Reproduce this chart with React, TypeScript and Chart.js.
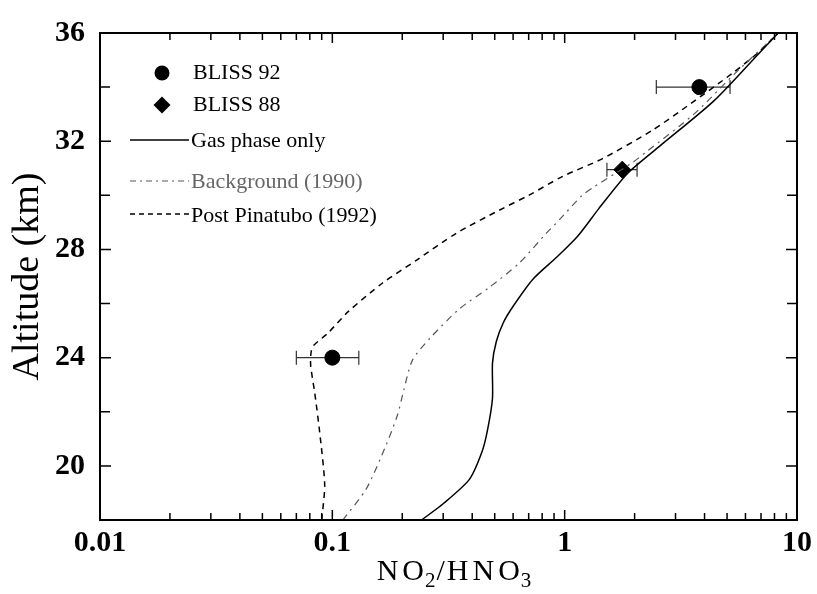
import React, { useEffect, useRef } from "react";
import { Chart, registerables } from "chart.js";

Chart.register(...registerables);

// ---- data (NO2/HNO3 ratio vs altitude in km) ----
const gasAlt = [18, 18.6, 19.5, 20.5, 21.3, 22.5, 23.8, 24.6, 25.3, 25.9, 26.9, 27.7, 28.5, 29.5, 30.8, 31.8, 33.5, 35.3, 36];
const gasRatio = [0.242, 0.3, 0.389, 0.44, 0.465, 0.489, 0.489, 0.508, 0.545, 0.6, 0.73, 0.92, 1.14, 1.4, 1.86, 2.55, 4.4, 6.95, 8.3];

const bgAlt = [18, 19.15, 20.8, 21.9, 22.8, 23.9, 24.7, 25.8, 26.6, 27.5, 28.6, 29.1, 30.0, 30.3, 31.2, 31.6, 33.0, 34.5, 36];
const bgRatio = [0.111, 0.14, 0.171, 0.191, 0.203, 0.221, 0.262, 0.352, 0.474, 0.638, 0.834, 0.95, 1.19, 1.33, 1.95, 2.24, 3.6, 5.4, 8.3];

const pinAlt = [18, 19.3, 21.25, 22.7, 23.7, 24.2, 24.45, 24.9, 25.7, 26.75, 27.6, 28.6, 29.45, 30.0, 30.7, 31.35, 32.4, 33.4, 34.5, 35.3, 36];
const pinRatio = [0.09, 0.0927, 0.0882, 0.084, 0.0807, 0.081, 0.083, 0.0955, 0.117, 0.164, 0.23, 0.342, 0.523, 0.70, 0.98, 1.45, 2.38, 3.5, 5.25, 6.86, 8.3];

const bliss92Alt = [34, 24];
const bliss92Ratio = [3.8, 0.1];
const bliss92Low = [2.48, 0.07];
const bliss92High = [5.15, 0.13];

const bliss88Alt = [30.95];
const bliss88Ratio = [1.77];
const bliss88Low = [1.52];
const bliss88High = [2.05];

const xMajorTicks = [0.01, 0.1, 1, 10];
const xMinorTicks = [
  0.02, 0.03, 0.04, 0.05, 0.06, 0.07, 0.08, 0.09,
  0.2, 0.3, 0.4, 0.5, 0.6, 0.7, 0.8, 0.9,
  2, 3, 4, 5, 6, 7, 8, 9,
];
const yMajorTicks = [20, 24, 28, 32, 36];
const yMinorTicks = [22, 26, 30, 34];

const legendLabels = ["BLISS 92", "BLISS 88", "Gas phase only", "Background (1990)", "Post Pinatubo (1992)"];
const yTitle = "Altitude (km)";
const xTitleParts = [
  { t: "NO", sub: false },
  { t: "2", sub: true },
  { t: "/HNO", sub: false },
  { t: "3", sub: true },
];

const SERIF = "'Liberation Serif', 'Times New Roman', serif";
const BG_COLOR = "#555555";

const zip = (xs: number[], ys: number[]) => xs.map((x, i) => ({ x, y: ys[i] }));

const decorPlugin = {
  id: "decor",
  beforeDatasetsDraw(chart: any) {
    const { ctx } = chart;
    const xs = chart.scales.x;
    const ys = chart.scales.y;
    const drawErr = (low: number[], high: number[], alt: number[]) => {
      for (let i = 0; i < alt.length; i++) {
        const y = ys.getPixelForValue(alt[i]);
        const x1 = xs.getPixelForValue(low[i]);
        const x2 = xs.getPixelForValue(high[i]);
        ctx.save();
        ctx.strokeStyle = "#333";
        ctx.lineWidth = 1.2;
        ctx.beginPath();
        ctx.moveTo(x1, y);
        ctx.lineTo(x2, y);
        ctx.moveTo(x1, y - 7);
        ctx.lineTo(x1, y + 7);
        ctx.moveTo(x2, y - 7);
        ctx.lineTo(x2, y + 7);
        ctx.stroke();
        ctx.restore();
      }
    };
    drawErr(bliss92Low, bliss92High, bliss92Alt);
    drawErr(bliss88Low, bliss88High, bliss88Alt);
  },
  afterDraw(chart: any) {
    const { ctx, chartArea } = chart;
    const { left, right, top, bottom } = chartArea;
    const xs = chart.scales.x;
    const ys = chart.scales.y;
    ctx.save();
    ctx.strokeStyle = "#000";
    // frame
    ctx.lineWidth = 2;
    ctx.strokeRect(left, top, right - left, bottom - top);
    // inward ticks
    ctx.lineWidth = 1.5;
    ctx.beginPath();
    const xt = (v: number, len: number) => {
      const p = xs.getPixelForValue(v);
      ctx.moveTo(p, bottom);
      ctx.lineTo(p, bottom - len);
      ctx.moveTo(p, top);
      ctx.lineTo(p, top + len);
    };
    xMajorTicks.forEach((v) => xt(v, 10));
    xMinorTicks.forEach((v) => xt(v, 7));
    const yt = (v: number, len: number) => {
      const p = ys.getPixelForValue(v);
      ctx.moveTo(left, p);
      ctx.lineTo(left + len, p);
      ctx.moveTo(right, p);
      ctx.lineTo(right - len, p);
    };
    yMajorTicks.forEach((v) => yt(v, 11));
    yMinorTicks.forEach((v) => yt(v, 10));
    ctx.stroke();

    // legend
    ctx.textAlign = "left";
    ctx.textBaseline = "middle";
    ctx.font = `22px ${SERIF}`;
    const mx = left + 62;
    const tx = left + 93;
    // BLISS 92
    ctx.fillStyle = "#000";
    ctx.beginPath();
    ctx.arc(mx, 73, 7.5, 0, Math.PI * 2);
    ctx.fill();
    ctx.fillText(legendLabels[0], tx, 73);
    // BLISS 88
    ctx.beginPath();
    ctx.moveTo(mx, 105 - 8.5);
    ctx.lineTo(mx + 8.5, 105);
    ctx.lineTo(mx, 105 + 8.5);
    ctx.lineTo(mx - 8.5, 105);
    ctx.closePath();
    ctx.fill();
    ctx.fillText(legendLabels[1], tx, 105);
    // lines
    const lx1 = left + 30;
    const lx2 = left + 89;
    const ltx = left + 91;
    const drawLegLine = (y: number, dash: number[], color: string, w: number) => {
      ctx.save();
      ctx.strokeStyle = color;
      ctx.lineWidth = w;
      ctx.setLineDash(dash);
      ctx.beginPath();
      ctx.moveTo(lx1, y);
      ctx.lineTo(lx2, y);
      ctx.stroke();
      ctx.restore();
    };
    drawLegLine(140, [], "#000", 1.5);
    ctx.fillText(legendLabels[2], ltx, 141);
    drawLegLine(181, [6, 4, 2, 4], BG_COLOR, 1.2);
    ctx.fillStyle = "#666";
    ctx.fillText(legendLabels[3], ltx, 182);
    drawLegLine(214, [5, 4], "#000", 1.5);
    ctx.fillStyle = "#000";
    ctx.fillText(legendLabels[4], ltx, 216);

    // x title with subscripts
    const big = 30;
    const small = 21;
    const glyphs: { ch: string; sub: boolean }[] = [];
    xTitleParts.forEach((p) => {
      for (const ch of p.t) glyphs.push({ ch, sub: p.sub });
    });
    const gapAfter = (i: number) => {
      if (i >= glyphs.length - 1) return 0;
      const a = glyphs[i];
      const b = glyphs[i + 1];
      if (a.sub || b.sub) return 1;
      if (a.ch === "/" || b.ch === "/") return 2;
      return 4;
    };
    const widthOf = (g: { ch: string; sub: boolean }) => {
      ctx.font = `${g.sub ? small : big}px ${SERIF}`;
      return ctx.measureText(g.ch).width;
    };
    let total = 0;
    glyphs.forEach((g, i) => (total += widthOf(g) + gapAfter(i)));
    let cx = 454 - total / 2;
    const baseY = 580;
    ctx.textBaseline = "alphabetic";
    ctx.fillStyle = "#000";
    glyphs.forEach((g, i) => {
      const w = widthOf(g);
      ctx.fillText(g.ch, cx, g.sub ? baseY + 7 : baseY);
      cx += w + gapAfter(i);
    });
    ctx.restore();
  },
};

export default function App() {
  const ref = useRef<HTMLCanvasElement | null>(null);
  useEffect(() => {
    document.body.style.margin = "0";
    const canvas = ref.current;
    if (!canvas) return;
    const lineBase = { showLine: true, pointRadius: 0, tension: 0.25, fill: false };
    const chart = new Chart(canvas, {
      type: "scatter",
      data: {
        datasets: [
          {
            label: "Gas phase only",
            data: zip(gasRatio, gasAlt),
            borderColor: "#000",
            borderWidth: 1.5,
            ...lineBase,
          },
          {
            label: "Background (1990)",
            data: zip(bgRatio, bgAlt),
            borderColor: BG_COLOR,
            borderWidth: 1.2,
            borderDash: [7, 5, 2, 5],
            ...lineBase,
          },
          {
            label: "Post Pinatubo (1992)",
            data: zip(pinRatio, pinAlt),
            borderColor: "#000",
            borderWidth: 1.5,
            borderDash: [6, 5],
            ...lineBase,
          },
          {
            label: "BLISS 92",
            data: zip(bliss92Ratio, bliss92Alt),
            pointStyle: "circle",
            pointRadius: 7.5,
            backgroundColor: "#000",
            borderColor: "#000",
            showLine: false,
          },
          {
            label: "BLISS 88",
            data: zip(bliss88Ratio, bliss88Alt),
            pointStyle: "rectRot",
            pointRadius: 8.5,
            backgroundColor: "#000",
            borderColor: "#000",
            showLine: false,
          },
        ],
      } as any,
      options: {
        animation: false,
        responsive: false,
        layout: { padding: { top: 28, right: 19, left: 0, bottom: 0 } },
        plugins: {
          legend: { display: false },
          tooltip: { enabled: false },
        },
        scales: {
          x: {
            type: "logarithmic",
            min: 0.01,
            max: 10,
            afterBuildTicks: (scale: any) => {
              scale.ticks = xMajorTicks.map((v) => ({ value: v }));
            },
            afterFit: (scale: any) => {
              scale.height = 74;
            },
            ticks: {
              color: "#000",
              font: { family: SERIF, size: 30, weight: "bold" },
              padding: 5,
              maxRotation: 0,
              autoSkip: false,
              callback: (v: any) => String(v),
            },
            grid: { display: false, drawTicks: false },
            border: { display: false },
          },
          y: {
            type: "linear",
            min: 18,
            max: 36,
            afterBuildTicks: (scale: any) => {
              scale.ticks = yMajorTicks.map((v) => ({ value: v }));
            },
            afterFit: (scale: any) => {
              scale.width = 100;
            },
            ticks: {
              color: "#000",
              font: { family: SERIF, size: 30, weight: "bold" },
              padding: 15,
              autoSkip: false,
              callback: (v: any) => String(v),
            },
            grid: { display: false, drawTicks: false },
            border: { display: false },
            title: {
              display: true,
              text: yTitle,
              color: "#000",
              font: { family: SERIF, size: 38 },
              padding: { top: 5, bottom: 0 },
            },
          },
        },
      } as any,
      plugins: [decorPlugin],
    });
    return () => chart.destroy();
  }, []);
  return (
    <div style={{ width: 817, height: 594 }}>
      <canvas ref={ref} width={817} height={594} style={{ display: "block" }} />
    </div>
  );
}
